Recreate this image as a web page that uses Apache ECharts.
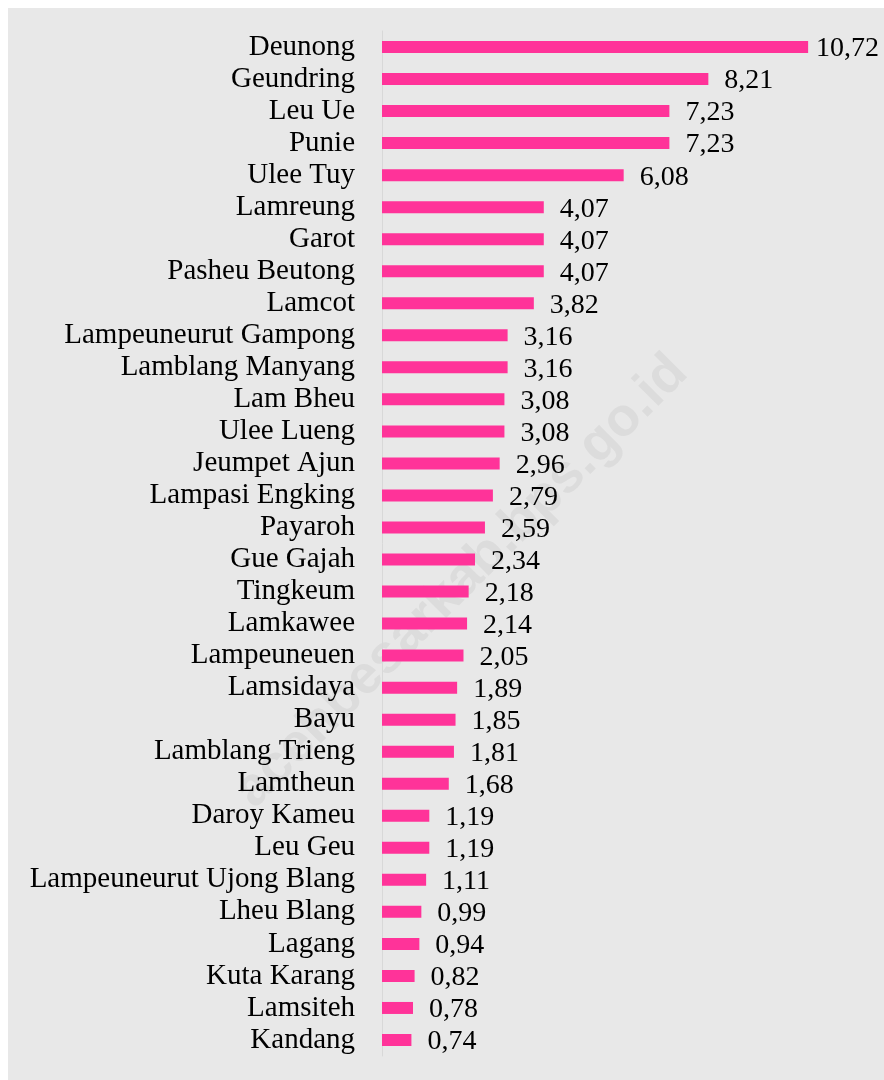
<!DOCTYPE html>
<html><head><meta charset="utf-8">
<script src="https://cdn.jsdelivr.net/npm/echarts@6/dist/echarts.min.js"></script>
<style>html,body{margin:0;padding:0;background:#fff;}#c{width:884px;height:1080px;}</style>
</head><body><div id="c"></div>
<script>
const categories = ["Deunong","Geundring","Leu Ue","Punie","Ulee Tuy","Lamreung","Garot","Pasheu Beutong","Lamcot","Lampeuneurut Gampong","Lamblang Manyang","Lam Bheu","Ulee Lueng","Jeumpet Ajun","Lampasi Engking","Payaroh","Gue Gajah","Tingkeum","Lamkawee","Lampeuneuen","Lamsidaya","Bayu","Lamblang Trieng","Lamtheun","Daroy Kameu","Leu Geu","Lampeuneurut Ujong Blang","Lheu Blang","Lagang","Kuta Karang","Lamsiteh","Kandang"];
const values = [10.72,8.21,7.23,7.23,6.08,4.07,4.07,4.07,3.82,3.16,3.16,3.08,3.08,2.96,2.79,2.59,2.34,2.18,2.14,2.05,1.89,1.85,1.81,1.68,1.19,1.19,1.11,0.99,0.94,0.82,0.78,0.74];
const chart = echarts.init(document.getElementById('c'));
const seriesData = values.map((v,i)=> i===0 ? {value:v,label:{distance:8}} : v);
chart.setOption({
  animation:false,
  backgroundColor:'#fff',
  graphic:[
    {type:'rect',z:-10,shape:{x:8,y:8,width:876,height:1072},style:{fill:'#e8e8e8'}},
    {type:'text',z:-5,x:225,y:780,rotation:Math.PI/4,style:{text:'acehbesarkab.bps.go.id',font:'bold 54px "Liberation Sans"',fill:'rgba(150,150,150,0.14)'}}
  ],
  grid:{left:382,right:25,top:31,bottom:24},
  xAxis:{type:'value',min:0,max:12,show:false},
  yAxis:{type:'category',data:categories,inverse:true,
    axisLine:{show:true,lineStyle:{color:'#d8d8d8',width:1}},
    axisTick:{show:false},
    axisLabel:{interval:0,margin:27,padding:[4,0,0,0],fontFamily:'Liberation Serif',fontSize:29,color:'#000'}},
  series:[{type:'bar',data:seriesData,barWidth:12,itemStyle:{color:'#ff3399'},
    label:{show:true,position:'right',distance:16,offset:[0,2],fontFamily:'Liberation Serif',fontSize:28,color:'#000',
      formatter:p=>p.value.toFixed(2).replace('.',',')}}]
});
</script></body></html>
